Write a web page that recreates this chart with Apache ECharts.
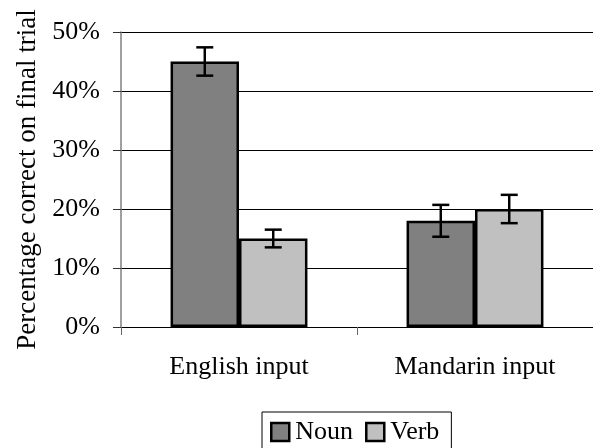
<!DOCTYPE html>
<html>
<head>
<meta charset="utf-8">
<script src="https://cdn.jsdelivr.net/npm/echarts@6/dist/echarts.min.js"></script>
<style>
html,body{margin:0;padding:0;background:#fff;}
#chart{width:593px;height:448px;}
</style>
</head>
<body>
<div id="chart"></div>
<script>
const categories = ['English input', 'Mandarin input'];
const seriesNames = ['Noun', 'Verb'];
const nounValues = [45, 18];
const verbValues = [15, 20];
const nounErrors = [2.4, 2.7];
const verbErrors = [1.5, 2.4];
const yTicks = [0, 10, 20, 30, 40, 50];

const FONT = "'Liberation Serif', 'Times New Roman', serif";
const chart = echarts.init(document.getElementById('chart'), null, {renderer: 'canvas'});

function errData(values, errors, side) {
  return values.map((v, i) => [i, v - errors[i], v + errors[i], side]);
}

function renderErr(params, api) {
  const cat = api.value(0);
  const lo = api.value(1), hi = api.value(2), side = api.value(3);
  const band = api.size([1, 0])[0];
  const x = api.coord([cat, 0])[0] + side * band * 0.58 / 4;
  const yLo = api.coord([cat, lo])[1];
  const yHi = api.coord([cat, hi])[1];
  const cap = 8.5;
  const style = {stroke: '#000', lineWidth: 2.5};
  return {
    type: 'group',
    children: [
      {type: 'line', shape: {x1: x, y1: yLo, x2: x, y2: yHi}, style: style},
      {type: 'line', shape: {x1: x - cap, y1: yLo, x2: x + cap, y2: yLo}, style: style},
      {type: 'line', shape: {x1: x - cap, y1: yHi, x2: x + cap, y2: yHi}, style: style}
    ]
  };
}

const option = {
  backgroundColor: '#fff',
  animation: false,
  textStyle: {fontFamily: FONT, color: '#000'},
  grid: {left: 121, right: -3, top: 32, bottom: 121, containLabel: false},
  legend: {
    data: seriesNames,
    left: 262, top: 412,
    orient: 'horizontal',
    itemWidth: 18, itemHeight: 18, itemGap: 12,
    padding: [7, 12, 7, 8],
    borderColor: '#000', borderWidth: 1,
    icon: 'rect',
    itemStyle: {borderColor: '#000', borderWidth: 2.5},
    textStyle: {fontFamily: FONT, fontSize: 26, color: '#000', padding: [0, 0, 0, 1]}
  },
  xAxis: {
    type: 'category',
    data: categories,
    axisLine: {show: true, lineStyle: {color: '#000', width: 1}},
    axisTick: {show: true, length: 8, lineStyle: {color: '#666'}},
    axisLabel: {fontFamily: FONT, fontSize: 26, color: '#000', margin: 27}
  },
  yAxis: {
    type: 'value',
    min: yTicks[0], max: yTicks[yTicks.length - 1], interval: 10,
    name: 'Percentage correct on final trial',
    nameLocation: 'middle',
    nameGap: 78,
    nameTextStyle: {fontFamily: FONT, fontSize: 27, color: '#000'},
    axisLine: {show: true, lineStyle: {color: '#808080', width: 1.5}},
    axisTick: {show: true, length: 8, lineStyle: {color: '#333'}},
    axisLabel: {fontFamily: FONT, fontSize: 26, color: '#000', margin: 21, formatter: '{value}%'},
    splitLine: {show: true, lineStyle: {color: '#000', width: 1}}
  },
  series: [
    {
      name: seriesNames[0], type: 'bar', data: nounValues,
      barGap: 0, barCategoryGap: '42%',
      itemStyle: {color: '#808080', borderColor: '#000', borderWidth: 2.5}
    },
    {
      name: seriesNames[1], type: 'bar', data: verbValues,
      barGap: 0, barCategoryGap: '42%',
      itemStyle: {color: '#c0c0c0', borderColor: '#000', borderWidth: 2.5}
    },
    {
      type: 'custom', renderItem: renderErr, z: 5,
      data: errData(nounValues, nounErrors, -1),
      encode: {x: 0, y: [1, 2]}, silent: true
    },
    {
      type: 'custom', renderItem: renderErr, z: 5,
      data: errData(verbValues, verbErrors, 1),
      encode: {x: 0, y: [1, 2]}, silent: true
    }
  ]
};
chart.setOption(option);
</script>
</body>
</html>
